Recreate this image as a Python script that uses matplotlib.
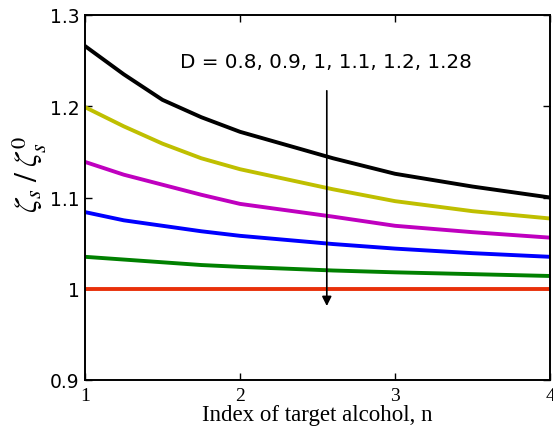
import matplotlib
matplotlib.use("Agg")
import matplotlib.pyplot as plt

plt.rcParams['mathtext.fontset'] = 'stix'

# values
n = [1, 1.25, 1.5, 1.75, 2, 2.6, 3, 3.5, 4]
d_128 = [1.266, 1.235, 1.207, 1.188, 1.172, 1.143, 1.126, 1.112, 1.100]
d_12 = [1.199, 1.178, 1.159, 1.143, 1.131, 1.109, 1.096, 1.085, 1.077]
d_11 = [1.139, 1.125, 1.114, 1.103, 1.093, 1.079, 1.069, 1.062, 1.056]
d_1 = [1.084, 1.075, 1.069, 1.063, 1.058, 1.049, 1.044, 1.039, 1.035]
d_09 = [1.035, 1.032, 1.029, 1.026, 1.024, 1.020, 1.018, 1.016, 1.014]
d_08 = [1.0, 1.0, 1.0, 1.0, 1.0, 1.0, 1.0, 1.0, 1.0]

series = [d_128, d_12, d_11, d_1, d_09, d_08]
colors = ['black', '#bfbf00', '#bf00bf', '#0000ff', '#008000', '#e8300a']

xticks = [1, 2, 3, 4]
yticks = [0.9, 1.0, 1.1, 1.2, 1.3]
ytick_labels = ['0.9', '1', '1.1', '1.2', '1.3']

fig = plt.figure(figsize=(5.53, 4.27), dpi=100)
ax = fig.add_axes([85 / 553, 1 - 381 / 427, 465 / 553, 365 / 427])

for ys, c in zip(series, colors):
    ax.plot(n, ys, color=c, lw=2.8, solid_joinstyle='round')

ax.set_xlim(1, 4)
ax.set_ylim(0.9, 1.3)
ax.set_xticks(xticks)
ax.set_xticklabels([str(t) for t in xticks], family='Liberation Serif', fontsize=14)
ax.set_yticks(yticks)
ax.set_yticklabels(ytick_labels, family='DejaVu Sans', fontsize=13.5)
ax.tick_params(direction='in', length=5, width=1, top=True, right=True)
ax.tick_params(axis='x', pad=5)
ax.tick_params(axis='y', pad=4)
for s in ax.spines.values():
    s.set_linewidth(1.4)

ax.set_xlabel('Index of target alcohol, n', family='Liberation Serif', fontsize=16.5)
ax.xaxis.set_label_coords(0.5, -0.065)
ax.xaxis.label.set_va('top')
ax.set_ylabel(r'$\zeta_s\;/\;\zeta_s^0$', fontsize=23)
ax.yaxis.set_label_coords(-0.08, 0.565)

ax.annotate('', xy=(2.56, 0.978), xytext=(2.56, 1.22),
            arrowprops=dict(arrowstyle='-|>', color='black', lw=1.2, mutation_scale=14))
ax.text(1.615, 1.249, 'D = 0.8, 0.9, 1, 1.1, 1.2, 1.28', family='DejaVu Sans',
        fontsize=14.3, va='center', ha='left')

fig.savefig('out.png', dpi=100)
